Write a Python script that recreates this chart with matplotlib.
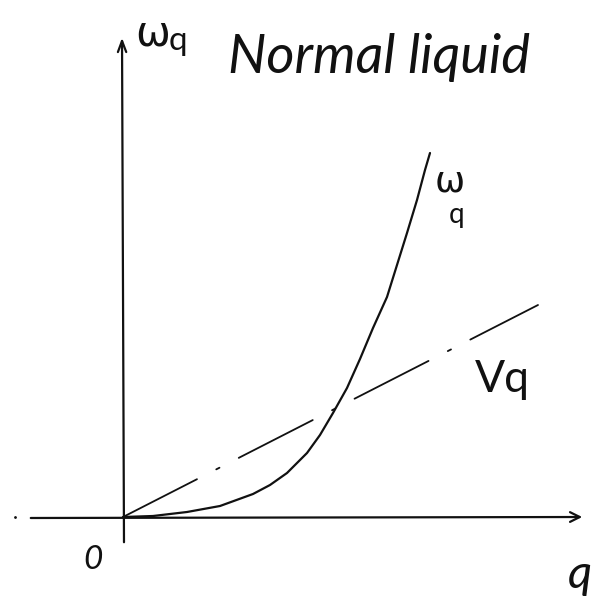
import matplotlib
matplotlib.use("Agg")
import matplotlib.pyplot as plt

# Dispersion of a normal liquid: omega_q (convex) against the sound line v*q
q_curve = [0.00, 0.30, 0.64, 0.97, 1.30, 1.47, 1.64, 1.84, 1.97, 2.10,
           2.24, 2.37, 2.50, 2.64, 2.74, 2.84, 2.94, 3.02, 3.07]
omega_curve = [0.00, 0.01, 0.05, 0.11, 0.23, 0.32, 0.44, 0.64, 0.82, 1.04,
               1.29, 1.58, 1.89, 2.20, 2.52, 2.84, 3.17, 3.47, 3.64]
q_line = [0.00, 4.15]
vq_line = [0.00, 2.12]

fig = plt.figure(figsize=(6.0, 5.96), dpi=100)
ax = fig.add_axes([0, 0, 1, 1])
ax.set_xlim(-1.23, 4.77)
ax.set_ylim(-0.79, 5.17)
ax.axis("off")

ink = "#111111"

# axes drawn as open arrows
ax.annotate("", xy=(4.62, 0.0), xytext=(-0.95, -0.01),
            arrowprops=dict(arrowstyle="->,head_length=0.7,head_width=0.35",
                            color=ink, lw=1.6))
ax.annotate("", xy=(-0.01, 4.82), xytext=(0.01, -0.28),
            arrowprops=dict(arrowstyle="->,head_length=0.8,head_width=0.3",
                            color=ink, lw=1.6))
ax.plot([-1.08], [0.0], marker=".", ms=2, color=ink)

# omega_q curve
ax.plot(q_curve, omega_curve, color=ink, lw=1.6, solid_capstyle="round",
        solid_joinstyle="round")

# v q line, dash-dot
ax.plot(q_line, vq_line, color=ink, lw=1.3, dash_capstyle="round",
        dashes=(46, 12, 2, 12))

hand = dict(color=ink, family=["Lato", "DejaVu Sans"], fontweight="normal")
greek = dict(color=ink, family="DejaVu Sans", fontweight="normal")


def omega_sub(x, y, size, below=False):
    """Write omega with a small q subscript at data position (x, y)."""
    ax.text(x, y, "ω", fontsize=size, ha="left", va="center", **greek)
    if below:
        ax.annotate("q", xy=(x, y), xytext=(10, -24), textcoords="offset points",
                    fontsize=20, ha="left", va="center", **hand)
    else:
        ax.annotate("q", xy=(x, y), xytext=(24, -6), textcoords="offset points",
                    fontsize=24, ha="left", va="center", **hand)


omega_sub(0.12, 4.84, 30)
omega_sub(3.12, 3.35, 26, below=True)
ax.text(1.05, 4.60, "Normal liquid", fontsize=39, ha="left", va="center",
        style="italic", **hand)
ax.text(3.52, 1.38, "Vq", fontsize=32, ha="left", va="center", **hand)
ax.text(-0.40, -0.43, "0", fontsize=24, ha="left", va="center",
        style="italic", **hand)
ax.text(4.45, -0.58, "q", fontsize=34, ha="left", va="center",
        style="italic", **hand)

fig.savefig("out.png", dpi=100)
